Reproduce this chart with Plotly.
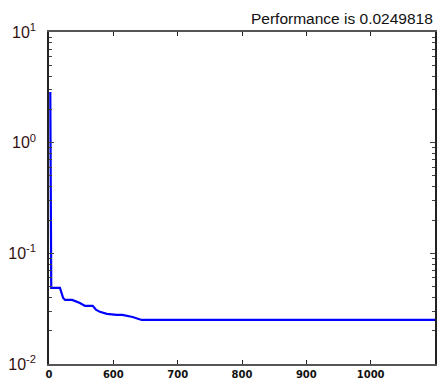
import plotly.graph_objects as go

# Data (x in axis units, y = performance)
epochs = [502, 502.5, 503, 503.5, 517, 522, 525, 536, 548, 556, 568, 573, 579, 590, 605, 614, 630, 644, 1100]
perf = [2.87, 0.25, 0.075, 0.0487, 0.0487, 0.0395, 0.0379, 0.0379, 0.0356, 0.0335, 0.0335, 0.031, 0.0296, 0.0284, 0.0278, 0.0278, 0.0266, 0.0250, 0.0250]

x_tickvals = [500, 600, 700, 800, 900, 1000]
x_ticktext = ["0", "600", "700", "800", "900", "1000"]
y_tickvals = [0.01, 0.1, 1, 10]
y_ticktext = ["10<sup>-2</sup>", "10<sup>-1</sup>", "10<sup>0</sup>", "10<sup>1</sup>"]
title_text = "Performance is 0.0249818"

minor_vals = [m * 10 ** e for e in (-2, -1, 0) for m in range(2, 10)]

fig = go.Figure()
fig.add_trace(go.Scatter(x=epochs, y=perf, mode="lines",
                         line=dict(color="#0000ff", width=2.2), showlegend=False))

fig.update_layout(
    width=438, height=381,
    margin=dict(l=49, r=1, t=32, b=17),
    paper_bgcolor="white", plot_bgcolor="white",
    font=dict(family="Liberation Sans, Arial", color="black"),
    annotations=[dict(text=title_text, xref="paper", yref="paper", x=1.0, y=1.0,
                      xanchor="right", yanchor="bottom", yshift=3, showarrow=False,
                      font=dict(size=15.5, color="#111"))],
)
fig.update_xaxes(range=[500, 1100], tickvals=x_tickvals, ticktext=x_ticktext,
                 ticks="inside", ticklen=4, tickcolor="#222", showgrid=False, zeroline=False,
                 showline=True, linecolor="#555", linewidth=1.5, mirror="ticks",
                 tickfont=dict(size=10, family="DejaVu Sans", weight="bold", color="#111"))
fig.update_yaxes(type="log", range=[-2, 1], tickvals=y_tickvals, ticktext=y_ticktext,
                 ticks="inside", ticklen=5, tickcolor="#444", showgrid=False, zeroline=False,
                 showline=True, linecolor="#222", linewidth=1.5, mirror="ticks",
                 ticklabelstandoff=8,
                 minor=dict(tickvals=minor_vals, ticks="inside", ticklen=3, tickcolor="#444", showgrid=False),
                 tickfont=dict(size=16, color="#311"))

fig.write_html("out.html", config={"displayModeBar": False},
               post_script="document.body.style.margin='0';document.body.style.overflow='hidden';")
